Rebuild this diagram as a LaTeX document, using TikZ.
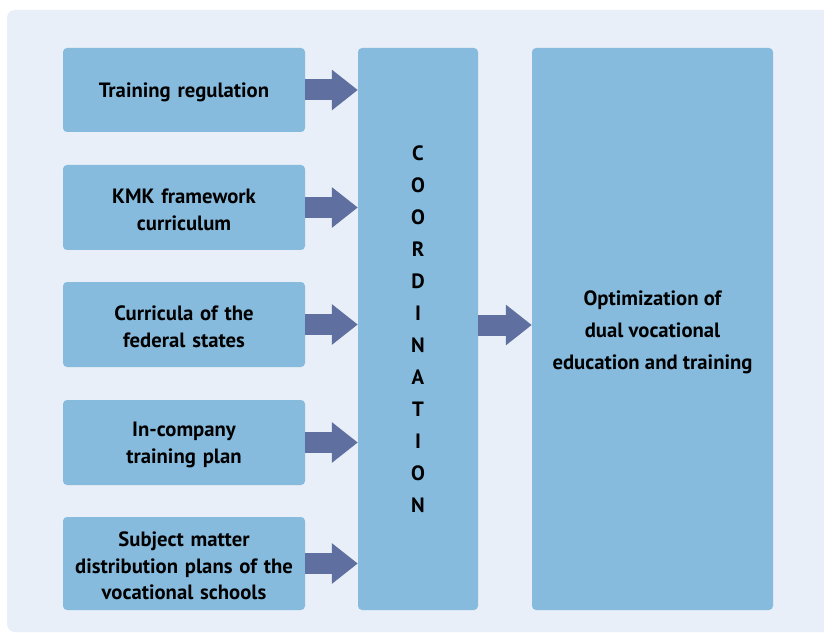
\documentclass[tikz,border=0pt]{standalone}
\usepackage{fontspec}
\setmainfont{PT Sans}
\usetikzlibrary{arrows.meta}
\definecolor{bgc}{HTML}{E8EFF8}
\definecolor{boxc}{HTML}{86BBDE}
\definecolor{arrc}{HTML}{5E6FA0}
\tikzset{
  srcbox/.style={fill=boxc, rounded corners=4pt, minimum width=242pt, inner sep=0pt},
  srctext/.style={text width=236pt, align=center, inner sep=0pt, font=\fontsize{20.7}{26.5}\selectfont\bfseries},
  bigbox/.style={fill=boxc, rounded corners=4pt, minimum height=562pt, inner sep=0pt},
  bigtext/.style={align=center, inner sep=0pt, font=\fontsize{20.7}{32}\selectfont\bfseries},
  fatarrow/.style={draw=arrc, line width=21pt, line cap=butt, -{Triangle[length=26pt,width=39pt]}},
}
\begin{document}
\begin{tikzpicture}[x=1pt,y=-1pt]
\useasboundingbox (0,0) rectangle (824,636);
\clip (0,0) rectangle (824,636);
\fill[white] (0,0) rectangle (824,636);
\fill[bgc, rounded corners=8pt] (7,10) rectangle (840,632);
\node[srcbox, minimum height=84pt] (b1) at (184,90) {};
\node[srcbox, minimum height=85pt] (b2) at (184,207.5) {};
\node[srcbox, minimum height=85pt] (b3) at (184,324.5) {};
\node[srcbox, minimum height=85pt] (b4) at (184,442.5) {};
\node[srcbox, minimum height=93pt] (b5) at (184,563.5) {};
\node[srctext] (t1) at ([yshift=-2.5pt]b1.center) {Training regulation};
\node[srctext] (t2) at ([yshift=-2.5pt]b2.center) {KMK framework\\curriculum};
\node[srctext] (t3) at ([yshift=-2.5pt]b3.center) {Curricula of the\\federal states};
\node[srctext] (t4) at ([yshift=-2.5pt]b4.center) {In-company\\training plan};
\node[srctext] (t5) at ([yshift=-2.5pt]b5.center) {Subject matter\\distribution plans of the\\vocational schools};
\node[bigbox, minimum width=120pt] (co) at (418,329) {};
\node[bigbox, minimum width=241pt] (opt) at (652.5,329) {};
\node[bigtext] (cot) at (co.center) {C\\O\\O\\R\\D\\I\\N\\A\\T\\I\\O\\N};
\node[bigtext] (optt) at ([yshift=-3pt]opt.center) {Optimization of\\dual vocational\\education and training};
\foreach \b in {b1,b2,b3,b4,b5}
  \draw[fatarrow] (\b.east) -- (co.west |- \b.east);
\draw[fatarrow] ([yshift=4pt]co.east) -- ([yshift=4pt]opt.west);
\end{tikzpicture}
\end{document}
